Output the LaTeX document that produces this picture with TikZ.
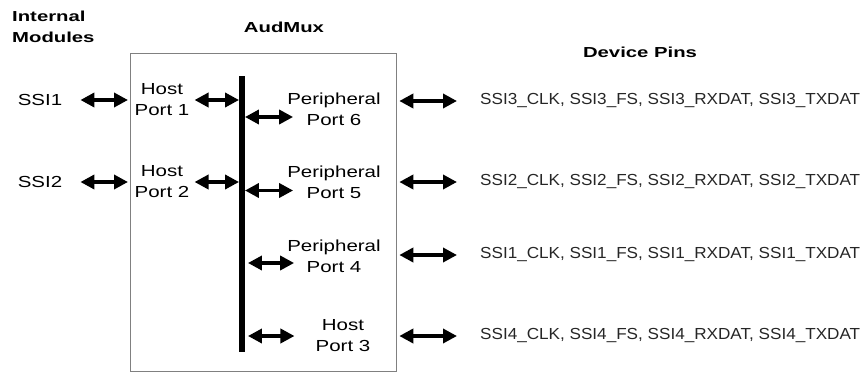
\documentclass[tikz,border=0pt]{standalone}
\usepackage{fontspec}
\setmainfont{Liberation Sans}[FakeStretch=1.28]
\newfontfamily\headfont{Liberation Sans}[FakeStretch=1.4]
\newfontfamily\pinfont{Liberation Sans}[FakeStretch=1.07]
\usepackage{tikz}
\usetikzlibrary{arrows.meta, positioning}

\begin{document}
\begin{tikzpicture}[x=1pt, y=-1pt, on grid, inner sep=0pt,
        every node/.style={font=\fontsize{16}{21}\selectfont},
        head/.style={font=\headfont\bfseries\fontsize{14.5}{21}\selectfont},
        port/.style={align=center},
        pin/.style={anchor=west, text=black!85, font=\pinfont\fontsize{16}{20}\selectfont},
        biarrow/.style={{Triangle[length=14pt,width=14pt]}-{Triangle[length=14pt,width=14pt]}, line width=3.6pt}]

        \useasboundingbox (0,0) rectangle (865,372);

        % headings
        \node[head, align=left, anchor=west] (intmod) at (12,27) {Internal\\Modules};
        \node[head] (audlbl) at (284,27) {AudMux};
        \node[head] (devpins) at (640,52) {Device Pins};

        % the mux box and its bus
        \node[draw=gray, line width=1.3pt, anchor=north west, minimum width=266pt, minimum height=318pt] (box) at (130,53) {};
        \node[fill=black, anchor=north, minimum width=5.5pt, minimum height=276pt] (bus) at (242,76) {};

        % left side
        \node (ssi1) at (40,100) {SSI1};
        \node (ssi2) [below=82pt of ssi1] {SSI2};
        \node[port] (host1) at (162,100) {Host\\Port 1};
        \node[port] (host2) [below=82pt of host1] {Host\\Port 2};

        % right side of the bus
        \node[port] (per6) at (334,109) {Peripheral\\Port 6};
        \node[port] (per5) [below=73.5pt of per6] {Peripheral\\Port 5};
        \node[port] (per4) [below=73.5pt of per5] {Peripheral\\Port 4};
        \node[port] (host3) at (343,336) {Host\\Port 3};

        % device pins
        \node[pin] (pins3) at (480,101) {SSI3\_CLK, SSI3\_FS, SSI3\_RXDAT, SSI3\_TXDAT};
        \node[pin] (pins2) at (480,182) {SSI2\_CLK, SSI2\_FS, SSI2\_RXDAT, SSI2\_TXDAT};
        \node[pin] (pins1) at (480,255) {SSI1\_CLK, SSI1\_FS, SSI1\_RXDAT, SSI1\_TXDAT};
        \node[pin] (pins4) at (480,336) {SSI4\_CLK, SSI4\_FS, SSI4\_RXDAT, SSI4\_TXDAT};

        \draw[biarrow] ([xshift=18pt]ssi1.east) -- ([xshift=-2pt]box.west |- ssi1);
        \draw[biarrow] ([xshift=18pt]ssi2.east) -- ([xshift=-2pt]box.west |- ssi2);
        \draw[biarrow] ([xshift=5pt]host1.east) -- (bus.west |- host1);
        \draw[biarrow] ([xshift=5pt]host2.east) -- (bus.west |- host2);

        \draw[biarrow] ([yshift=-8pt]bus.east |- per6) -- ([yshift=-8pt, xshift=6pt]per6.west);
        \draw[biarrow] ([yshift=-8pt]bus.east |- per5) -- ([yshift=-8pt, xshift=6pt]per5.west);
        \draw[biarrow] ([yshift=-7pt, xshift=3pt]bus.east |- per4) -- ([yshift=-7pt, xshift=7pt]per4.west);
        \draw[biarrow] ([xshift=3pt]bus.east |- host3) -- ([xshift=-21pt]host3.west);

        \draw[biarrow] ([xshift=2pt]box.east |- pins3) -- ([xshift=-23pt]pins3.west);
        \draw[biarrow] ([xshift=2pt]box.east |- pins2) -- ([xshift=-23pt]pins2.west);
        \draw[biarrow] ([xshift=2pt]box.east |- pins1) -- ([xshift=-23pt]pins1.west);
        \draw[biarrow] ([xshift=2pt]box.east |- pins4) -- ([xshift=-23pt]pins4.west);

    \end{tikzpicture}
\end{document}
